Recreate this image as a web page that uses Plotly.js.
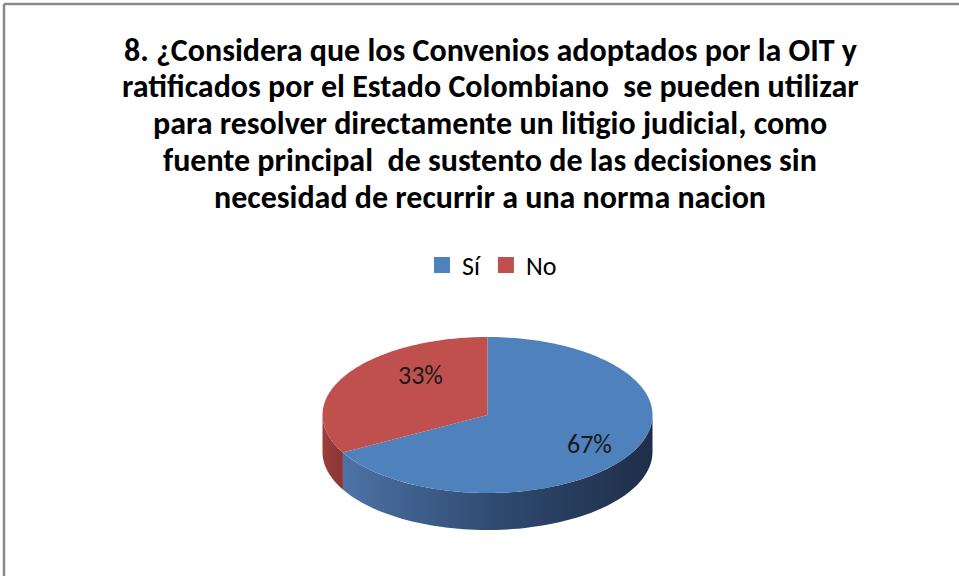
<!DOCTYPE html>
<html>
<head>
<meta charset="utf-8">
<script src="https://cdn.plot.ly/plotly-3.0.1.min.js"></script>
<style>html,body{margin:0;padding:0;background:#fff;}#chart{width:959px;height:576px;}</style>
</head>
<body>
<div id="chart"></div>
<script>
// ---- data ----
const categories = ["Sí", "No"];
const values = [67, 33];
const titleLines = [
  "8. ¿Considera que los Convenios adoptados por la OIT y",
  "ratificados por el Estado Colombiano  se pueden utilizar",
  "para resolver directamente un litigio judicial, como",
  "fuente principal  de sustento de las decisiones sin",
  "necesidad de recurrir a una norma nacion"
];

// ---- style / geometry ----
const topColors = ["#4f81bd", "#c0504d"];
const wallScales = [
  [[0, "#4d72a6"], [0.5, "#2f4a70"], [1, "#1f2e48"]],
  [[0, "#9a3f3c"], [1, "#8a3533"]]
];
const FONT = "Carlito, Calibri, Lato, 'Liberation Sans', sans-serif";
const cx = 487.5, cy = 415, rx = 165, ry = 78, depth = 37;
const labelFactors = [[0.72, 0.72], [0.47, 1.0]];

function arc(t1, t2, dy, n) {
  const xs = [], ys = [];
  for (let i = 0; i <= n; i++) {
    const t = (t1 + (t2 - t1) * i / n) * Math.PI / 180;
    xs.push(cx + rx * Math.cos(t));
    ys.push(cy + dy - ry * Math.sin(t));
  }
  return [xs, ys];
}

const total = values.reduce((a, b) => a + b, 0);
const traces = [];
const faces = [];
const annotations = [];
let start = 90;
values.forEach((v, i) => {
  const sweep = v / total * 360;
  const t1 = start, t2 = start - sweep; // clockwise
  const lo = t2, hi = t1;
  for (let k = -1; k <= 1; k++) {
    const a = Math.max(lo, -180 + 360 * k), b = Math.min(hi, 360 * k);
    if (b > a) {
      const [x1, y1] = arc(a, b, 0, 80);
      const [x2, y2] = arc(b, a, depth, 80);
      traces.push({
        type: "scatter", mode: "none", fill: "toself",
        x: x1.concat(x2), y: y1.concat(y2),
        fillcolor: wallScales[i][0][1],
        fillgradient: {type: "horizontal", colorscale: wallScales[i]},
        showlegend: false, hoverinfo: "skip"
      });
    }
  }
  const [ax, ay] = arc(t1, t2, 0, 160);
  faces.push({
    type: "scatter", mode: "none", fill: "toself",
    x: [cx].concat(ax, [cx]), y: [cy].concat(ay, [cy]),
    fillcolor: topColors[i], name: categories[i],
    showlegend: false, hoverinfo: "name"
  });
  const mid = (t1 + t2) / 2 * Math.PI / 180;
  annotations.push({
    x: cx + rx * labelFactors[i][0] * Math.cos(mid),
    y: cy - ry * labelFactors[i][1] * Math.sin(mid),
    xref: "x", yref: "y", showarrow: false,
    text: Math.round(v / total * 100) + "%",
    font: {family: FONT, size: 26, color: "#1a1a1a"}
  });
  start = t2;
});

const legendTraces = categories.map((c, i) => ({
  type: "scatter", mode: "markers", x: [null], y: [null], name: c,
  marker: {symbol: "square", size: 16, color: topColors[i]}, showlegend: true
}));

const titleY = [50, 86, 123, 160, 197];
titleLines.forEach((t, i) => {
  annotations.push({
    x: 490, y: titleY[i], xref: "x", yref: "y", showarrow: false,
    text: "<b>" + t + "</b>", yanchor: "middle",
    font: {family: FONT, size: 32, color: "#000"}
  });
});

const layout = {
  width: 959, height: 576,
  margin: {l: 0, r: 0, t: 0, b: 0},
  paper_bgcolor: "#fff", plot_bgcolor: "#fff",
  xaxis: {range: [0, 959], visible: false, fixedrange: true},
  yaxis: {range: [576, 0], visible: false, fixedrange: true},
  showlegend: true,
  legend: {orientation: "h", x: 492 / 959, xanchor: "center", y: 1 - 265 / 576, yanchor: "middle",
           font: {family: FONT, size: 26, color: "#000"}, bgcolor: "rgba(0,0,0,0)",
           itemwidth: 30, tracegroupgap: 0},
  annotations: annotations,
  shapes: [
    {type: "line", xref: "x", yref: "y", x0: 4, y0: 4, x1: 959, y1: 4, line: {color: "#8a8a8a", width: 2.5}},
    {type: "line", xref: "x", yref: "y", x0: 4, y0: 4, x1: 4, y1: 576, line: {color: "#8a8a8a", width: 2.5}}
  ]
};

Plotly.newPlot("chart", traces.concat(faces, legendTraces), layout, {displayModeBar: false, staticPlot: true});
</script>
</body>
</html>
